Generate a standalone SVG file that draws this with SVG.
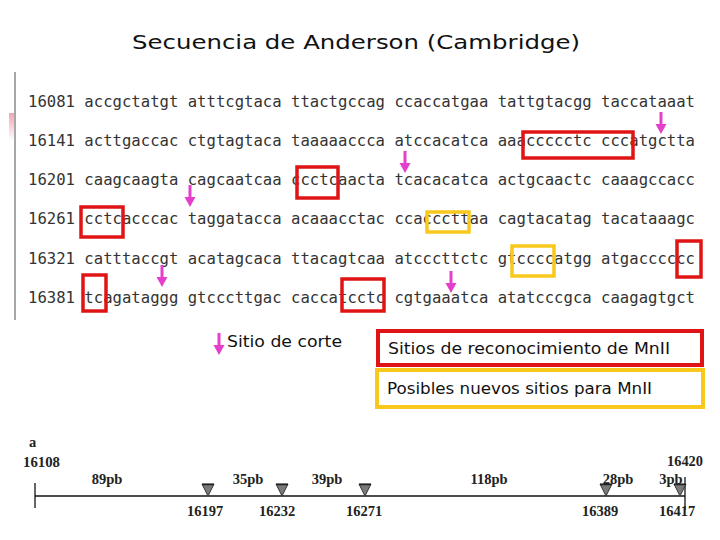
<svg xmlns="http://www.w3.org/2000/svg" width="720" height="540" viewBox="0 0 720 540">
<style>
.seq{font-family:"DejaVu Sans Mono","Liberation Mono",monospace;font-size:15.6px;fill:#333}
.red{fill:none;stroke:#e01414;stroke-width:3.5}
.yel{fill:none;stroke:#f8c81c;stroke-width:3.5}
.leg{font-family:"DejaVu Sans","Open Sans",sans-serif;font-size:16px;fill:#111}
.map{font-family:"Liberation Serif","DejaVu Serif",serif;font-size:14.5px;font-weight:bold;fill:#222}
.axis{stroke:#111;stroke-width:1.3;fill:none}
</style>
<defs>
<linearGradient id="pk" x1="0" y1="0" x2="0" y2="1">
<stop offset="0" stop-color="#f2a5b3"/>
<stop offset="1" stop-color="#ffffff"/>
</linearGradient>
<g id="arrow">
<line x1="0" y1="0" x2="0" y2="14" stroke="#e43fcb" stroke-width="3"/>
<polygon points="-5.5,12 5.5,12 0,22" fill="#e43fcb"/>
</g>
<g id="tri">
<polygon points="-6,0 6,0 0,12" fill="#7a7a7a" stroke="#333" stroke-width="1"/>
<line x1="-6" y1="0.5" x2="6" y2="0.5" stroke="#222" stroke-width="1.5"/>
</g>
</defs>
<rect width="720" height="540" fill="#ffffff"/>
<text x="132" y="49" font-family="DejaVu Sans,Verdana,sans-serif" font-size="19.5" fill="#111" textLength="448" lengthAdjust="spacingAndGlyphs">Secuencia de Anderson (Cambridge)</text>
<g id="frame">
<line x1="15" y1="72" x2="15" y2="320" stroke="#8a8a8a" stroke-width="1.5"/>
<rect x="9" y="113" width="5" height="28" fill="url(#pk)"/>
</g>
<g id="sequence">
<text class="seq" x="28" y="107" textLength="667" lengthAdjust="spacing">16081 accgctatgt atttcgtaca ttactgccag ccaccatgaa tattgtacgg taccataaat</text>
<text class="seq" x="28" y="146" textLength="667" lengthAdjust="spacing">16141 acttgaccac ctgtagtaca taaaaaccca atccacatca aaaccccctc cccatgctta</text>
<text class="seq" x="28" y="185" textLength="667" lengthAdjust="spacing">16201 caagcaagta cagcaatcaa ccctcaacta tcacacatca actgcaactc caaagccacc</text>
<text class="seq" x="28" y="224" textLength="667" lengthAdjust="spacing">16261 cctcacccac taggatacca acaaacctac ccacccttaa cagtacatag tacataaagc</text>
<text class="seq" x="28" y="264" textLength="667" lengthAdjust="spacing">16321 catttaccgt acatagcaca ttacagtcaa atcccttctc gtccccatgg atgacccccc</text>
<text class="seq" x="28" y="303" textLength="667" lengthAdjust="spacing">16381 tcagataggg gtcccttgac caccatcctc cgtgaaatca atatcccgca caagagtgct</text>
</g>
<g id="recognition-sites">
<rect class="red" x="523" y="132" width="110" height="26"/>
<rect class="red" x="297" y="167" width="41" height="31"/>
<rect class="red" x="81" y="207" width="42" height="30"/>
<rect class="red" x="677" y="241" width="24" height="36"/>
<rect class="red" x="83" y="275" width="23" height="36"/>
<rect class="red" x="342" y="279" width="42" height="32"/>
</g>
<g id="new-sites">
<rect class="yel" x="427" y="212" width="42" height="20"/>
<rect class="yel" x="512" y="246" width="42" height="30"/>
</g>
<g id="connectors">
<use href="#arrow" x="661" y="112"/>
<use href="#arrow" x="405" y="151"/>
<use href="#arrow" x="190" y="185"/>
<use href="#arrow" x="162" y="265"/>
<use href="#arrow" x="451" y="271"/>
</g>
<g id="legend-cut">
<use href="#arrow" x="219" y="333"/>
<text class="leg" x="227" y="347" textLength="115" lengthAdjust="spacingAndGlyphs">Sitio de corte</text>
</g>
<g id="legend-red">
<rect x="378" y="331" width="324" height="34" fill="none" stroke="#e01414" stroke-width="4"/>
<text class="leg" x="388" y="354" textLength="282" lengthAdjust="spacingAndGlyphs">Sitios de reconocimiento  de MnII</text>
</g>
<g id="legend-yellow">
<rect x="377" y="370" width="326" height="37" fill="none" stroke="#f8c81c" stroke-width="4"/>
<text class="leg" x="387" y="394" textLength="265" lengthAdjust="spacingAndGlyphs">Posibles nuevos sitios para MnII</text>
</g>
<g id="map">
<text class="map" x="29" y="447" font-size="17">a</text>
<text class="map" x="23" y="467" textLength="37" lengthAdjust="spacingAndGlyphs">16108</text>
<text class="map" x="667" y="466" textLength="36" lengthAdjust="spacingAndGlyphs">16420</text>
<line class="axis" x1="35" y1="496" x2="685" y2="496"/>
<line class="axis" x1="35" y1="483" x2="35" y2="508"/>
<line class="axis" x1="685" y1="477" x2="685" y2="510"/>
<use href="#tri" x="208" y="484"/>
<use href="#tri" x="282" y="484"/>
<use href="#tri" x="365" y="484"/>
<use href="#tri" x="606" y="484"/>
<use href="#tri" x="680" y="484"/>
<g text-anchor="middle">
<text class="map" x="107" y="484">89pb</text>
<text class="map" x="248" y="484">35pb</text>
<text class="map" x="327" y="484">39pb</text>
<text class="map" x="489" y="484">118pb</text>
<text class="map" x="618" y="484">28pb</text>
<text class="map" x="671" y="484">3pb</text>
<text class="map" x="205" y="516">16197</text>
<text class="map" x="277" y="516">16232</text>
<text class="map" x="364" y="516">16271</text>
<text class="map" x="600" y="516">16389</text>
<text class="map" x="677" y="516">16417</text>
</g>
</g>
</svg>
